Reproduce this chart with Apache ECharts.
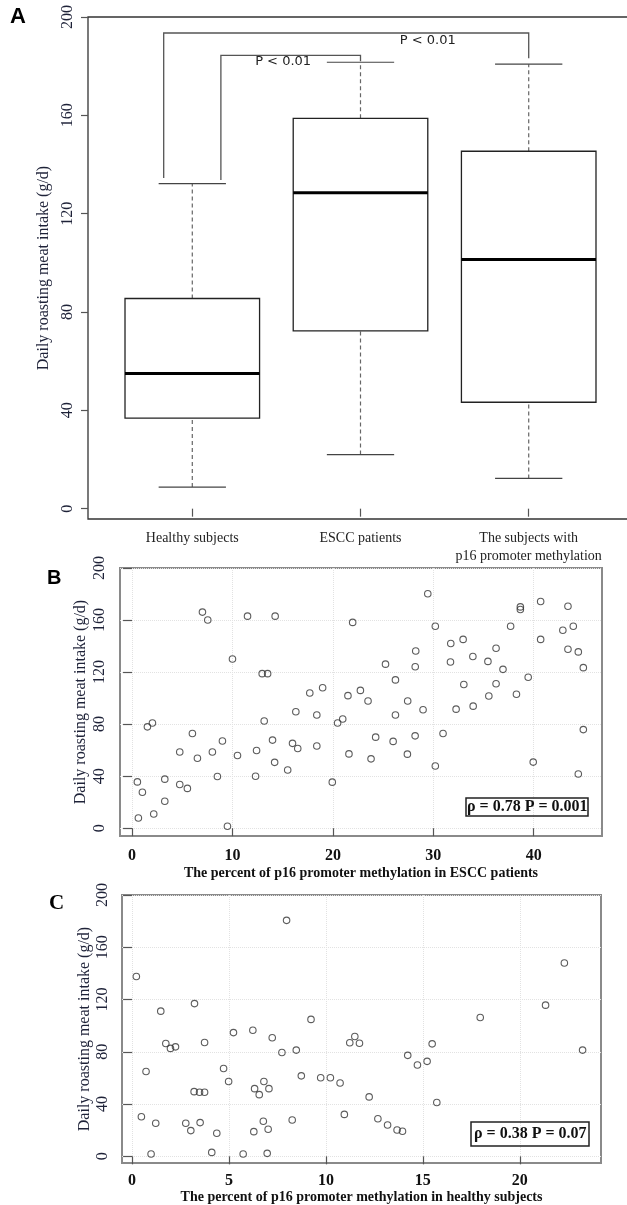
<!DOCTYPE html>
<html>
<head>
<meta charset="utf-8">
<script src="https://cdn.jsdelivr.net/npm/echarts@6/dist/echarts.min.js"></script>
<style>
  html, body { margin: 0; padding: 0; background: #fff; }
  #chart { width: 627px; height: 1205px; }
</style>
</head>
<body>
<div id="chart"></div>
<script>
// panel A: box plot summaries
const categories = ['Healthy subjects', 'ESCC patients', 'The subjects with\np16 promoter methylation'];
const lowWhisker = [8.8, 22.0, 12.3];
const q1 = [36.8, 72.3, 43.3];
const median = [55.0, 128.5, 101.4];
const q3 = [85.5, 158.8, 145.4];
const highWhisker = [132.2, 181.6, 180.8];
const yTicks = [0, 40, 80, 120, 160, 200];

// significance brackets
const bracketFrom = [0.83, 1.17];
const bracketTo = [3, 2];
const bracketTop = [193.5, 184.4];
const bracketFromEnd = [134.5, 133.7];
const bracketToEnd = [183.2, 182];
const pLabels = ['P < 0.01', 'P < 0.01'];
const pLabelX = [2.4, 1.54];
const pLabelY = [190.3, 181.7];

// panel B: ESCC patients
const esccMethylation = [0.53, 1.03, 0.63, 1.53, 2.03, 2.16, 3.26, 3.26, 4.75, 4.75, 5.51, 6.01, 6.51, 7.01, 7.54, 8.0, 8.5, 9.0, 9.5, 10.0, 10.5, 11.5, 12.3, 12.4, 12.96, 13.5, 13.16, 13.99, 14.2, 14.25, 15.5, 15.98, 16.31, 16.5, 17.7, 18.4, 18.4, 18.98, 19.94, 20.47, 20.98, 21.5, 21.6, 21.97, 22.74, 23.5, 23.8, 24.26, 25.24, 26.0, 26.23, 26.23, 27.42, 27.45, 28.19, 28.2, 28.25, 28.98, 29.45, 30.2, 30.2, 30.97, 31.74, 31.71, 32.27, 32.97, 33.04, 33.94, 33.97, 35.44, 35.53, 36.25, 36.25, 36.94, 37.7, 38.28, 38.67, 38.67, 39.45, 39.95, 40.69, 40.69, 42.9, 43.41, 43.41, 43.94, 44.44, 44.44, 44.94, 44.94];
const esccIntake = [35.6, 27.6, 7.8, 77.9, 80.9, 10.9, 37.7, 20.7, 58.6, 33.6, 30.6, 72.8, 53.8, 166.1, 160, 58.6, 39.7, 67, 1.5, 130, 55.9, 163, 39.9, 59.7, 118.8, 118.8, 82.4, 67.7, 50.6, 163, 44.7, 65.2, 89.5, 61.2, 103.9, 87, 63.2, 107.9, 35.4, 80.9, 83.9, 101.9, 57.1, 158.2, 105.9, 97.8, 53.3, 70, 126.1, 66.7, 114, 87, 56.9, 97.8, 71, 124.1, 136.2, 91, 180.2, 155.2, 47.8, 72.8, 142, 127.7, 91.5, 145.1, 110.5, 132, 93.8, 128.2, 101.6, 138.3, 111, 122.1, 155.2, 102.9, 170.1, 168.1, 116, 50.8, 174.2, 145.1, 152.2, 170.6, 137.5, 155.2, 135.5, 41.7, 123.4, 75.8];
const esccTicks = [0, 10, 20, 30, 40];

// panel C: healthy subjects
const healthyMethylation = [0.22, 0.48, 0.72, 0.98, 1.22, 1.48, 1.74, 1.98, 2.24, 2.77, 3.03, 3.22, 3.2, 3.48, 3.74, 3.51, 3.74, 4.11, 4.37, 4.72, 4.98, 5.23, 5.73, 6.23, 6.28, 6.32, 6.56, 6.77, 6.8, 6.97, 7.02, 7.06, 7.23, 7.73, 7.97, 8.26, 8.47, 8.73, 9.23, 9.73, 10.23, 10.73, 10.95, 11.23, 11.49, 11.73, 12.23, 12.68, 13.18, 13.67, 13.95, 14.22, 14.72, 15.22, 15.48, 15.72, 17.96, 21.33, 22.3, 23.24];
const healthyIntake = [137.6, 30.3, 64.9, 1.8, 25.3, 111.1, 86.4, 82.6, 83.8, 25.3, 19.7, 116.9, 49.5, 49, 49, 25.8, 87.1, 3, 17.7, 67.2, 57.3, 94.7, 1.8, 96.5, 18.9, 51.8, 47.2, 26.8, 57.3, 2.3, 20.7, 51.8, 90.7, 79.5, 180.6, 27.8, 81.3, 61.6, 104.8, 60.1, 60.1, 56.1, 32.1, 86.9, 91.7, 86.6, 45.5, 28.8, 24, 20.2, 19.2, 77.3, 69.9, 72.7, 86.1, 41.2, 106.3, 115.7, 148, 81.3];
const healthyTicks = [0, 5, 10, 15, 20];

const serif = 'Liberation Serif';
const yName = 'Daily roasting meat intake (g/d)';
const tickLabelColor = '#1e2238';

const chart = echarts.init(document.getElementById('chart'), null, { renderer: 'canvas' });

function boxItem(params, api) {
  const x = api.value(0);
  const lo = api.coord([x, api.value(1)]);
  const b1 = api.coord([x, api.value(2)]);
  const md = api.coord([x, api.value(3)]);
  const b3 = api.coord([x, api.value(4)]);
  const hi = api.coord([x, api.value(5)]);
  const hw = api.size([0.4, 0])[0];
  const cw = api.size([0.2, 0])[0];
  const dash = { stroke: '#666', lineWidth: 1.2, lineDash: [4, 3] };
  const cap = { stroke: '#444', lineWidth: 1.2 };
  return {
    type: 'group',
    children: [
      { type: 'line', shape: { x1: lo[0], y1: lo[1], x2: lo[0], y2: b1[1] }, style: dash },
      { type: 'line', shape: { x1: hi[0], y1: b3[1], x2: hi[0], y2: hi[1] }, style: dash },
      { type: 'line', shape: { x1: lo[0] - cw, y1: lo[1], x2: lo[0] + cw, y2: lo[1] }, style: cap },
      { type: 'line', shape: { x1: hi[0] - cw, y1: hi[1], x2: hi[0] + cw, y2: hi[1] }, style: cap },
      { type: 'rect', shape: { x: b1[0] - hw, y: b3[1], width: hw * 2, height: b1[1] - b3[1] },
        style: { fill: '#fff', stroke: '#222', lineWidth: 1.3 } },
      { type: 'line', shape: { x1: md[0] - hw, y1: md[1], x2: md[0] + hw, y2: md[1] },
        style: { stroke: '#000', lineWidth: 3 } }
    ]
  };
}

function bracketItem(params, api) {
  const a = api.coord([api.value(0), api.value(3)]);
  const b = api.coord([api.value(0), api.value(2)]);
  const c = api.coord([api.value(1), api.value(2)]);
  const d = api.coord([api.value(1), api.value(4)]);
  return {
    type: 'polyline',
    shape: { points: [a, b, c, d] },
    style: { fill: 'none', stroke: '#555', lineWidth: 1.3 }
  };
}

function pLabelItem(params, api) {
  const p = api.coord([api.value(0), api.value(1)]);
  return {
    type: 'text',
    x: p[0], y: p[1],
    style: {
      text: pLabels[params.dataIndex],
      fontFamily: 'DejaVu Sans', fontSize: 13, fill: '#222',
      align: 'center', verticalAlign: 'middle'
    }
  };
}

const frameGrid = (color, width) => ({ show: true, borderColor: color, borderWidth: width, backgroundColor: 'transparent', outerBoundsMode: 'none' });

const yAxisBase = (gridIndex, min, margin, tickLen, nameGap, split) => ({
  type: 'value', gridIndex, min, max: 200,
  axisLine: { show: false },
  axisTick: { show: true, customValues: yTicks, length: tickLen, lineStyle: { color: '#555', width: 1.2 } },
  axisLabel: { customValues: yTicks, rotate: 90, margin, fontFamily: serif, fontSize: 16, color: tickLabelColor },
  splitLine: { show: split, lineStyle: { color: '#e2e2e2', type: 'dotted', width: 1 } },
  name: yName, nameLocation: 'middle', nameRotate: 90, nameGap, nameMoveOverlap: false,
  nameTextStyle: { fontFamily: serif, fontSize: 16, color: tickLabelColor }
});

const xAxisScatter = (gridIndex, min, max, ticks, name, margin, nameGap) => ({
  type: 'value', gridIndex, min, max,
  axisLine: { show: false },
  axisTick: { show: true, customValues: ticks, length: 8, lineStyle: { color: '#555', width: 1.2 } },
  axisLabel: { customValues: ticks, margin, fontFamily: serif, fontSize: 16, fontWeight: 'bold', color: '#111' },
  splitLine: { show: true, lineStyle: { color: '#e2e2e2', type: 'dotted', width: 1 } },
  name, nameLocation: 'middle', nameGap,
  nameTextStyle: { fontFamily: serif, fontSize: 14, fontWeight: 'bold', color: '#111' }
});

const scatterStyle = { color: 'rgba(0,0,0,0)', borderColor: '#333', borderWidth: 1.1 };

const option = {
  animation: false,
  backgroundColor: '#fff',
  title: [
    { text: 'A', left: 10, top: 6, padding: 0, textStyle: { fontFamily: 'Liberation Sans', fontWeight: 'bold', fontSize: 22, color: '#000' } },
    { text: 'B', left: 47, top: 568, padding: 0, textStyle: { fontFamily: 'Liberation Sans', fontWeight: 'bold', fontSize: 20, color: '#000' } },
    { text: 'C', left: 49, top: 893, padding: 0, textStyle: { fontFamily: serif, fontWeight: 'bold', fontSize: 21, color: '#000' } },
    { text: 'ρ = 0.78 P = 0.001', left: 466, top: 798, padding: [1, 1], borderColor: '#222', borderWidth: 1.5,
      textStyle: { fontFamily: serif, fontWeight: 'bold', fontSize: 16, lineHeight: 16, color: '#111' } },
    { text: 'ρ = 0.38 P = 0.07', left: 471, top: 1122, padding: [4, 3], borderColor: '#222', borderWidth: 1.5,
      textStyle: { fontFamily: serif, fontWeight: 'bold', fontSize: 16, lineHeight: 16, color: '#111' } }
  ],
  grid: [
    Object.assign({ left: 88, top: 17, right: -6, height: 502 }, frameGrid('#333', 1.3)),
    Object.assign({ left: 120, top: 568, width: 482, height: 268 }, frameGrid('#8a8a8a', 2)),
    Object.assign({ left: 122, top: 895, width: 479, height: 268 }, frameGrid('#8a8a8a', 2))
  ],
  xAxis: [
    {
      type: 'value', gridIndex: 0, min: 0.38, max: 3.62,
      axisLine: { show: false },
      axisTick: { show: true, customValues: [1, 2, 3], length: 8, lineStyle: { color: '#555', width: 1.2 } },
      axisLabel: {
        customValues: [1, 2, 3], margin: 10, lineHeight: 18,
        fontFamily: serif, fontSize: 14, color: '#222',
        formatter: v => categories[Math.round(v) - 1]
      },
      splitLine: { show: false }
    },
    xAxisScatter(1, -1.2, 46.8, esccTicks, 'The percent of p16 promoter methylation in ESCC patients', 12, 30),
    xAxisScatter(2, -0.52, 24.19, healthyTicks, 'The percent of p16 promoter methylation in healthy subjects', 10, 25)
  ],
  yAxis: [
    yAxisBase(0, -4.2, 12, 7, 36, false),
    yAxisBase(1, -6, 12, 9, 31, true),
    yAxisBase(2, -5.1, 11, 9, 29, true)
  ],
  series: [
    {
      type: 'custom', xAxisIndex: 0, yAxisIndex: 0,
      renderItem: boxItem,
      data: categories.map((c, i) => [i + 1, lowWhisker[i], q1[i], median[i], q3[i], highWhisker[i]])
    },
    {
      type: 'custom', xAxisIndex: 0, yAxisIndex: 0,
      renderItem: bracketItem,
      data: bracketFrom.map((f, i) => [f, bracketTo[i], bracketTop[i], bracketFromEnd[i], bracketToEnd[i]])
    },
    {
      type: 'custom', xAxisIndex: 0, yAxisIndex: 0,
      renderItem: pLabelItem,
      data: pLabelX.map((x, i) => [x, pLabelY[i]])
    },
    {
      type: 'scatter', xAxisIndex: 1, yAxisIndex: 1,
      symbol: 'circle', symbolSize: 6.5, itemStyle: scatterStyle,
      data: esccMethylation.map((x, i) => [x, esccIntake[i]])
    },
    {
      type: 'scatter', xAxisIndex: 2, yAxisIndex: 2,
      symbol: 'circle', symbolSize: 6.5, itemStyle: scatterStyle,
      data: healthyMethylation.map((x, i) => [x, healthyIntake[i]])
    }
  ]
};

chart.setOption(option);
</script>
</body>
</html>
